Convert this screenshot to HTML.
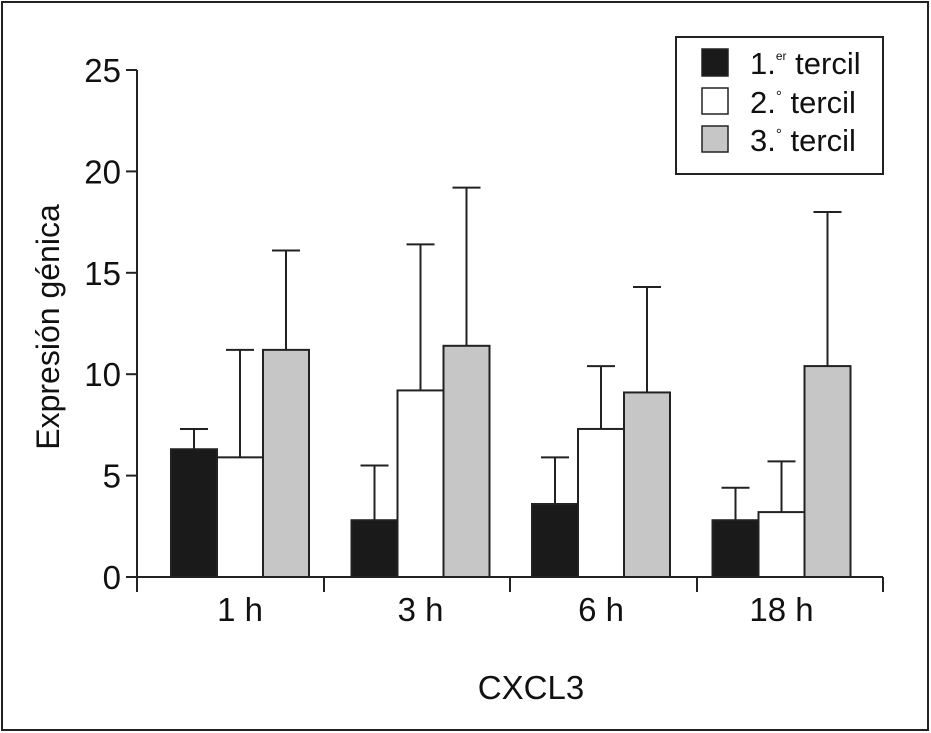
<!DOCTYPE html>
<html><head><meta charset="utf-8"><style>
body{margin:0;background:#fff}
svg{display:block;font-family:"Liberation Sans",sans-serif}
</style></head><body>
<svg id="chart" width="931" height="733">
<rect x="2" y="2" width="926" height="728" fill="#fff" stroke="#222" stroke-width="2"/>
<g id="plot"></g>
<g>
<rect x="676" y="37" width="207" height="137" fill="#fff" stroke="#222" stroke-width="2"/>
<rect x="702" y="49" width="26" height="27" fill="#1a1a1a" stroke="#222" stroke-width="1.5"/>
<rect x="702" y="88" width="26" height="26" fill="#fff" stroke="#222" stroke-width="1.5"/>
<rect x="702" y="126" width="26" height="26" fill="#c6c6c6" stroke="#222" stroke-width="1.5"/>
<text x="750" y="74" font-size="31" fill="#111">1.<tspan font-size="12" dy="-14">er</tspan><tspan dy="14"> tercil</tspan></text>
<text x="750" y="113" font-size="31" fill="#111">2.<tspan font-size="15" dy="-12">°</tspan><tspan dy="12"> tercil</tspan></text>
<text x="750" y="151" font-size="31" fill="#111">3.<tspan font-size="15" dy="-12">°</tspan><tspan dy="12"> tercil</tspan></text>
</g>
<text x="531" y="699" font-size="33" text-anchor="middle" fill="#111">CXCL3</text>
<text transform="translate(59,327) rotate(-90)" font-size="32" text-anchor="middle" fill="#111">Expresión génica</text>
</svg>
<script>
const categories=["1 h","3 h","6 h","18 h"];
const seriesNames=["1.er tercil","2.° tercil","3.° tercil"];
const s1=[6.3,2.8,3.6,2.8];
const s2=[5.9,9.2,7.3,3.2];
const s3=[11.2,11.4,9.1,10.4];
const e1=[7.3,5.5,5.9,4.4];
const e2=[11.2,16.4,10.4,5.7];
const e3=[16.1,19.2,14.3,18.0];
const yTicks=[0,5,10,15,20,25];
const NS="http://www.w3.org/2000/svg";
const plot=document.getElementById('plot');
const y0=577,yPer=20.28;
const y=v=>y0-v*yPer;
const centers=i=>240+i*180.5;
const bw=46;
const fills=["#1a1a1a","#fff","#c6c6c6"];
function mk(t,a){const e=document.createElementNS(NS,t);for(const k in a)e.setAttribute(k,a[k]);plot.appendChild(e);return e;}
const series=[s1,s2,s3],errs=[e1,e2,e3];
series.forEach((s,si)=>s.forEach((v,i)=>{
  const cx=centers(i)+(si-1)*bw;
  const l=mk('line',{x1:cx,x2:cx,y1:y(v),y2:y(errs[si][i]),stroke:'#222','stroke-width':2});
  
  
  const c=mk('line',{x1:cx-14,x2:cx+14,y1:y(errs[si][i]),y2:y(errs[si][i]),stroke:'#222','stroke-width':2});
  
  
}));
series.forEach((s,si)=>s.forEach((v,i)=>{
  const cx=centers(i)+(si-1)*bw;
  const r=mk('rect',{x:cx-bw/2,y:y(v),width:bw,height:y0-y(v),fill:fills[si],stroke:'#222','stroke-width':2});
  
  
}));
const ya=mk('line',{x1:137,x2:137,y1:y(25),y2:y0,stroke:'#222','stroke-width':2});


yTicks.forEach(t=>{
  const l=mk('line',{x1:126,x2:137,y1:y(t),y2:y(t),stroke:'#222','stroke-width':2});
  
  
  const tx=mk('text',{x:121,y:y(t)+12,'font-size':33,'text-anchor':'end',fill:'#111'});
  tx.textContent=t;
  
  
});
const xa=mk('line',{x1:126,x2:883,y1:y0,y2:y0,stroke:'#222','stroke-width':2});


[137,324,510,697,883].forEach(x=>{
  const l=mk('line',{x1:x,x2:x,y1:y0,y2:y0+15,stroke:'#222','stroke-width':2});
  
  
});
categories.forEach((c,i)=>{
  const tx=mk('text',{x:centers(i),y:621,'font-size':33,'text-anchor':'middle',fill:'#111'});
  tx.textContent=c;
  
  
});
</script>
</body></html>
